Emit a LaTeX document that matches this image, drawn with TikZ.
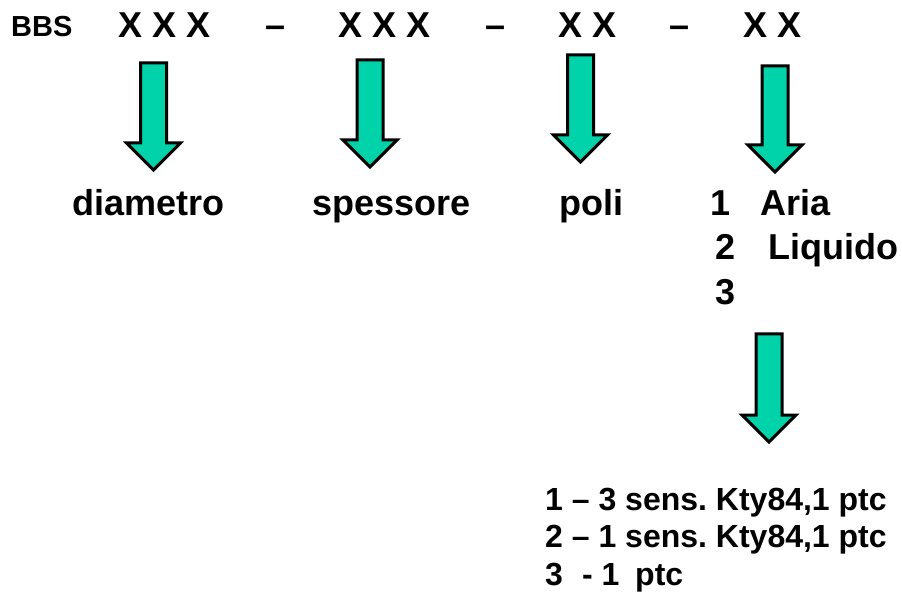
\documentclass[tikz,border=0pt]{standalone}
\usepackage{fontspec}
\setmainfont{Liberation Sans}
\frenchspacing
\definecolor{arrowfill}{RGB}{0,210,170}
\newcommand{\blockarrow}[4]{%
  \draw[blockarr] (#1-13,-#2) -- (#1+13,-#2) -- (#1+13,-#3) -- (#1+27,-#3)
    -- (#1,-#4) -- (#1-27,-#3) -- (#1-13,-#3) -- cycle;}
\begin{document}
\begin{tikzpicture}[x=1pt,y=1pt,
  txt/.style={anchor=base west,inner sep=0pt,font=\bfseries\fontsize{36}{40}\selectfont},
  small/.style={anchor=base west,inner sep=0pt,font=\bfseries\fontsize{32}{38}\selectfont},
  tiny/.style={anchor=base west,inner sep=0pt,font=\bfseries\fontsize{29}{32}\selectfont},
  blockarr/.style={draw=black,line width=3pt,fill=arrowfill,line join=miter}]
\useasboundingbox (0,0) rectangle (902,-593);
% top row
\node[tiny] (bbs) at (11,-37) {BBS};
\node[txt] (x1) at (118,-38) {X X X};
\node[txt] (d1) at (265,-38) {–};
\node[txt] (x2) at (338,-38) {X X X};
\node[txt] (d2) at (485,-38) {–};
\node[txt] (x3) at (558,-38) {X X};
\node[txt] (d3) at (669,-38) {–};
\node[txt] (x4) at (743,-38) {X X};
% arrows
\blockarrow{153.5}{63}{143}{170}
\blockarrow{370}{60}{140}{167}
\blockarrow{580.5}{55}{135}{162}
\blockarrow{775}{66}{145}{172}
\blockarrow{769}{334}{415}{442}
% second row
\node[txt] (diam) at (72,-216) {diametro};
\node[txt] (spes) at (312,-216) {spessore};
\node[txt] (poli) at (559,-216) {poli};
\node[txt] (n1) at (710,-216) {1};
\node[txt] (aria) at (760,-216) {Aria};
\node[txt] (n2) at (715,-260) {2};
\node[txt] (liq) at (768,-260) {Liquido};
\node[txt] (n3) at (715,-305) {3};
% bottom list
\node[small] (l1) at (545,-510) {1 – 3 sens. Kty84,1 ptc};
\node[small] (l2) at (545,-547) {2 – 1 sens. Kty84,1 ptc};
\node[small] (l3a) at (545,-585) {3};
\node[small] (l3b) at (582,-585) {- 1};
\node[small] (l3c) at (635,-585) {ptc};
\end{tikzpicture}
\end{document}
